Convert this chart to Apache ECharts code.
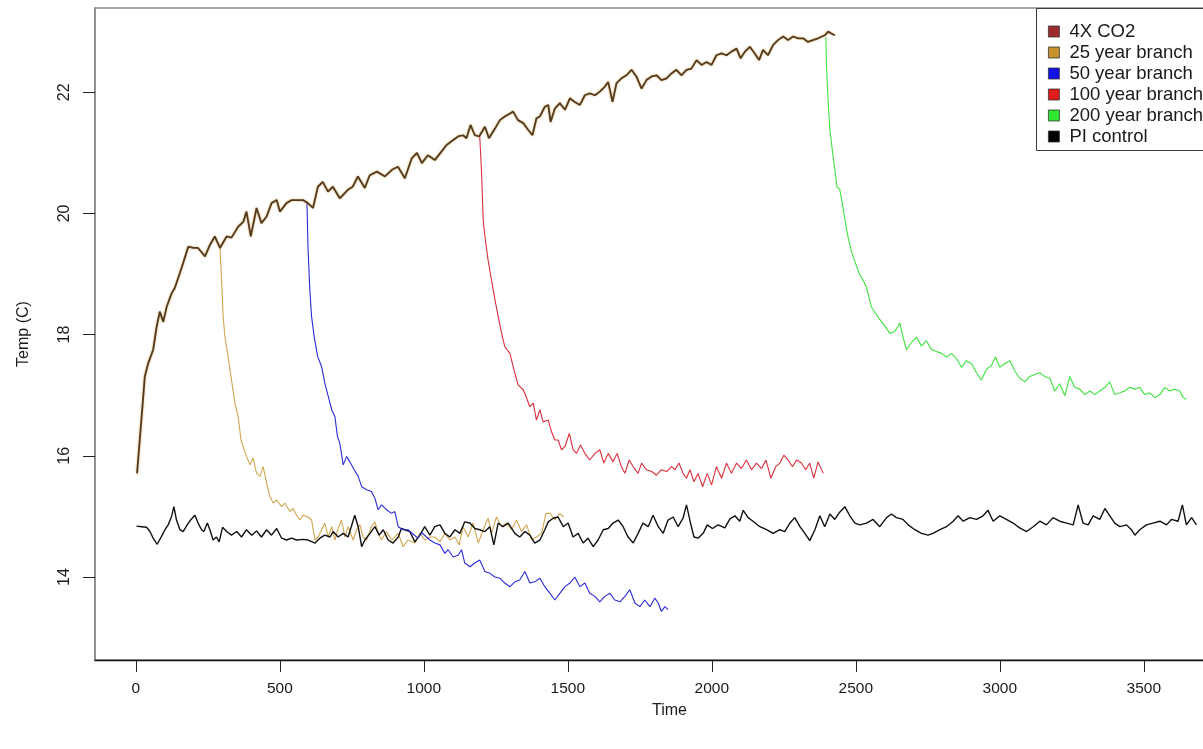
<!DOCTYPE html>
<html>
<head>
<meta charset="utf-8">
<title>Temp (C)</title>
<script src="https://cdn.jsdelivr.net/npm/echarts@6/dist/echarts.min.js"></script>
<style>
  html, body { margin: 0; padding: 0; background: #fff; }
  #chart { width: 1203px; height: 749px; }
</style>
</head>
<body>
<div id="chart"></div>
<script>
// Global mean temperature runs: [year, temperature °C]
const co2Run = [[4,15.71],[20,16.65],[31,17.31],[43,17.53],[60,17.75],[72,18.13],[83,18.38],[95,18.21],[107,18.46],[124,18.68],[135,18.77],[153,19.02],[164,19.18],[182,19.45],[199,19.43],[216,19.43],[240,19.29],[257,19.48],[274,19.62],[292,19.43],[315,19.62],[332,19.6],[355,19.78],[373,19.86],[384,20.03],[399,19.62],[419,20.09],[436,19.84],[454,19.95],[471,20.17],[489,20.22],[500,20.03],[523,20.17],[541,20.22],[562,20.22],[580,20.22],[597,20.17],[615,20.09],[632,20.44],[649,20.52],[667,20.36],[684,20.44],[708,20.25],[736,20.39],[753,20.44],[771,20.61],[795,20.42],[812,20.63],[837,20.69],[865,20.61],[889,20.72],[910,20.77],[934,20.58],[958,20.91],[976,21.0],[993,20.83],[1014,20.96],[1038,20.88],[1061,21.02],[1079,21.13],[1102,21.21],[1119,21.27],[1136,21.29],[1148,21.24],[1162,21.46],[1177,21.29],[1192,21.27],[1212,21.43],[1226,21.24],[1247,21.4],[1264,21.54],[1281,21.6],[1299,21.65],[1310,21.68],[1327,21.54],[1345,21.49],[1362,21.38],[1377,21.29],[1391,21.57],[1403,21.6],[1420,21.76],[1432,21.79],[1440,21.51],[1455,21.73],[1472,21.82],[1490,21.71],[1507,21.9],[1524,21.84],[1542,21.79],[1559,21.95],[1576,21.98],[1594,21.95],[1611,22.01],[1628,22.09],[1640,22.17],[1655,21.84],[1669,22.15],[1686,22.23],[1704,22.28],[1721,22.37],[1738,22.26],[1756,22.06],[1773,22.2],[1791,22.26],[1808,22.28],[1825,22.2],[1843,22.23],[1860,22.31],[1877,22.37],[1895,22.28],[1912,22.37],[1929,22.39],[1947,22.53],[1964,22.45],[1982,22.5],[1999,22.45],[2016,22.61],[2034,22.64],[2051,22.61],[2068,22.67],[2086,22.72],[2100,22.56],[2115,22.67],[2132,22.75],[2149,22.64],[2164,22.53],[2178,22.7],[2195,22.61],[2213,22.78],[2230,22.86],[2248,22.92],[2265,22.86],[2282,22.92],[2300,22.89],[2317,22.89],[2334,22.83],[2351,22.86],[2369,22.89],[2392,22.94],[2404,23.0],[2415,22.97],[2427,22.94]];

const branch25 = [[292,19.43],[298,18.85],[303,18.3],[309,17.97],[320,17.64],[332,17.25],[344,16.87],[355,16.65],[365,16.26],[384,15.99],[396,15.85],[407,15.96],[419,15.71],[431,15.66],[442,15.82],[454,15.55],[465,15.33],[477,15.22],[489,15.27],[506,15.16],[517,15.22],[535,15.08],[546,15.13],[558,15.02],[569,14.94],[581,15.02],[598,14.99],[610,14.94],[622,14.61],[633,14.66],[645,14.78],[656,14.89],[668,14.66],[680,14.83],[691,14.61],[702,14.8],[714,14.94],[726,14.66],[737,14.83],[755,14.61],[766,14.78],[778,14.86],[789,14.66],[801,14.61],[818,14.83],[830,14.91],[841,14.72],[853,14.61],[870,14.75],[888,14.61],[911,14.72],[928,14.5],[945,14.61],[969,14.56],[986,14.72],[1003,14.61],[1021,14.66],[1038,14.66],[1056,14.58],[1073,14.72],[1090,14.61],[1108,14.66],[1123,14.53],[1136,14.83],[1154,14.66],[1171,14.89],[1189,14.56],[1206,14.78],[1223,14.97],[1235,14.72],[1252,14.99],[1270,14.83],[1287,14.89],[1305,14.78],[1322,14.94],[1339,14.75],[1357,14.86],[1374,14.61],[1391,14.66],[1409,14.72],[1424,15.05],[1438,15.05],[1455,14.94],[1472,15.05],[1486,14.99]];

const branch50 = [[594,20.17],[598,19.4],[604,18.74],[610,18.3],[619,17.97],[631,17.64],[645,17.47],[656,17.2],[668,16.98],[680,16.76],[691,16.65],[700,16.32],[708,16.21],[720,15.85],[732,15.99],[743,15.9],[758,15.77],[772,15.66],[784,15.49],[801,15.44],[818,15.41],[830,15.3],[841,15.11],[853,15.19],[870,15.11],[888,15.05],[899,15.08],[911,14.83],[928,14.78],[945,14.78],[962,14.71],[979,14.64],[993,14.73],[1009,14.66],[1021,14.61],[1038,14.56],[1056,14.53],[1073,14.39],[1084,14.45],[1102,14.33],[1119,14.36],[1131,14.45],[1142,14.23],[1160,14.17],[1177,14.23],[1194,14.28],[1212,14.09],[1229,14.06],[1247,14.0],[1264,13.98],[1281,13.9],[1299,13.84],[1316,13.92],[1333,13.95],[1351,14.09],[1368,13.9],[1385,13.92],[1403,13.98],[1420,13.84],[1438,13.73],[1455,13.62],[1472,13.73],[1490,13.84],[1507,13.9],[1524,14.0],[1542,13.84],[1559,13.9],[1576,13.73],[1594,13.68],[1611,13.59],[1628,13.68],[1646,13.73],[1663,13.62],[1681,13.59],[1698,13.68],[1715,13.79],[1733,13.57],[1750,13.51],[1767,13.62],[1785,13.51],[1802,13.65],[1814,13.57],[1825,13.43],[1837,13.51],[1848,13.46]];

const branch100 = [[1194,21.27],[1200,20.72],[1206,19.89],[1212,19.62],[1223,19.23],[1235,18.9],[1247,18.57],[1258,18.3],[1270,18.02],[1281,17.8],[1299,17.69],[1310,17.47],[1327,17.17],[1345,17.09],[1357,16.95],[1368,16.81],[1380,16.87],[1391,16.59],[1403,16.76],[1414,16.56],[1432,16.59],[1443,16.4],[1455,16.26],[1466,16.26],[1478,16.1],[1490,16.15],[1505,16.37],[1518,16.1],[1530,16.04],[1544,16.18],[1559,16.04],[1576,15.93],[1594,16.04],[1611,16.1],[1625,15.88],[1640,16.04],[1657,15.9],[1671,16.04],[1686,15.82],[1698,15.71],[1713,15.93],[1727,15.82],[1744,15.71],[1756,15.88],[1773,15.77],[1791,15.74],[1808,15.68],[1825,15.77],[1843,15.74],[1860,15.82],[1872,15.77],[1886,15.88],[1900,15.71],[1912,15.63],[1924,15.77],[1938,15.57],[1952,15.71],[1968,15.49],[1984,15.71],[1999,15.52],[2016,15.82],[2034,15.63],[2051,15.88],[2068,15.71],[2086,15.88],[2103,15.79],[2120,15.93],[2138,15.77],[2155,15.88],[2173,15.79],[2188,15.93],[2205,15.63],[2222,15.82],[2236,15.88],[2250,16.01],[2265,15.93],[2280,15.82],[2294,15.93],[2311,15.88],[2326,15.77],[2340,15.88],[2354,15.63],[2369,15.9],[2387,15.71]];

const branch200 = [[2396,22.91],[2398,22.44],[2404,21.85],[2410,21.38],[2419,21.02],[2427,20.73],[2435,20.43],[2444,20.4],[2454,20.14],[2462,19.9],[2473,19.61],[2485,19.37],[2497,19.2],[2511,19.02],[2525,18.9],[2537,18.78],[2546,18.61],[2554,18.46],[2566,18.37],[2583,18.25],[2601,18.14],[2618,18.02],[2635,18.05],[2653,18.19],[2664,17.96],[2676,17.75],[2693,17.87],[2711,17.96],[2728,17.81],[2745,17.9],[2763,17.75],[2780,17.72],[2798,17.69],[2815,17.63],[2832,17.69],[2850,17.6],[2867,17.46],[2884,17.57],[2902,17.52],[2919,17.37],[2936,17.25],[2954,17.43],[2971,17.49],[2985,17.63],[3000,17.46],[3017,17.52],[3035,17.57],[3052,17.4],[3069,17.28],[3087,17.22],[3104,17.31],[3122,17.34],[3139,17.37],[3156,17.31],[3174,17.28],[3191,17.07],[3208,17.19],[3226,16.99],[3243,17.31],[3260,17.13],[3278,17.1],[3295,17.01],[3313,17.07],[3330,17.01],[3347,17.07],[3365,17.13],[3382,17.22],[3399,17.01],[3417,17.04],[3434,17.07],[3451,17.13],[3469,17.1],[3486,17.13],[3503,17.01],[3521,17.04],[3538,16.96],[3556,17.01],[3573,17.13],[3590,17.07],[3608,17.1],[3625,17.07],[3637,16.96],[3648,16.93]];

const piControl = [[2,14.84],[20,14.83],[37,14.82],[49,14.75],[60,14.64],[74,14.54],[89,14.67],[101,14.78],[112,14.86],[124,15.0],[132,15.16],[141,14.94],[153,14.78],[164,14.75],[178,14.86],[190,14.94],[205,15.02],[216,14.89],[228,14.78],[236,14.75],[248,14.89],[257,14.78],[268,14.61],[280,14.66],[289,14.58],[301,14.82],[315,14.75],[332,14.69],[350,14.75],[367,14.66],[384,14.78],[402,14.69],[419,14.76],[436,14.66],[454,14.78],[471,14.69],[489,14.8],[506,14.64],[523,14.61],[541,14.64],[558,14.61],[581,14.62],[598,14.61],[622,14.56],[639,14.64],[656,14.69],[674,14.66],[685,14.75],[702,14.66],[720,14.72],[737,14.66],[755,14.94],[760,15.02],[772,14.83],[784,14.5],[795,14.61],[813,14.72],[830,14.83],[845,14.69],[859,14.78],[876,14.61],[893,14.56],[911,14.66],[922,14.8],[934,14.78],[951,14.75],[969,14.58],[986,14.69],[1003,14.83],[1021,14.69],[1038,14.83],[1056,14.86],[1073,14.72],[1090,14.66],[1108,14.78],[1125,14.72],[1142,14.91],[1160,14.89],[1177,14.8],[1194,14.78],[1212,14.75],[1229,14.83],[1243,14.53],[1258,14.89],[1275,14.83],[1293,14.89],[1316,14.72],[1333,14.66],[1351,14.75],[1368,14.69],[1385,14.56],[1403,14.61],[1420,14.78],[1432,14.91],[1449,14.97],[1466,14.99],[1484,14.83],[1501,14.89],[1518,14.66],[1536,14.72],[1553,14.56],[1570,14.64],[1588,14.5],[1605,14.61],[1623,14.78],[1640,14.8],[1657,14.89],[1675,14.94],[1692,14.83],[1709,14.66],[1727,14.56],[1744,14.72],[1761,14.89],[1779,14.83],[1796,15.02],[1814,14.83],[1831,14.72],[1848,14.94],[1866,14.99],[1883,14.83],[1900,14.97],[1912,15.19],[1926,14.89],[1938,14.66],[1952,14.64],[1970,14.72],[1984,14.86],[2002,14.8],[2022,14.86],[2045,14.81],[2063,14.96],[2080,15.01],[2097,14.92],[2109,15.1],[2126,14.98],[2143,14.92],[2167,14.83],[2190,14.78],[2213,14.72],[2236,14.78],[2253,14.75],[2271,14.89],[2288,14.98],[2306,14.83],[2323,14.72],[2340,14.6],[2358,14.78],[2375,15.01],[2392,14.83],[2410,15.04],[2427,14.95],[2444,15.07],[2462,15.16],[2479,15.01],[2497,14.89],[2514,14.86],[2537,14.89],[2560,14.95],[2583,14.83],[2607,14.98],[2624,15.04],[2641,14.98],[2664,14.95],[2682,14.86],[2705,14.78],[2728,14.72],[2751,14.69],[2768,14.72],[2792,14.78],[2815,14.83],[2838,14.92],[2855,15.01],[2873,14.92],[2896,14.98],[2919,14.95],[2942,15.01],[2959,15.1],[2977,14.92],[3000,15.01],[3023,14.95],[3046,14.89],[3069,14.81],[3093,14.75],[3116,14.83],[3139,14.92],[3162,14.86],[3185,14.98],[3208,14.92],[3232,14.89],[3255,14.86],[3272,15.19],[3289,14.89],[3307,14.86],[3324,15.01],[3347,14.95],[3365,15.13],[3382,15.01],[3399,14.89],[3417,14.83],[3440,14.86],[3457,14.78],[3469,14.69],[3486,14.78],[3509,14.86],[3532,14.89],[3556,14.92],[3579,14.86],[3596,14.95],[3619,14.92],[3634,15.19],[3648,14.86],[3666,14.98],[3683,14.86]];

const timeTicks = [0, 500, 1000, 1500, 2000, 2500, 3000, 3500];
const tempTicks = [14, 16, 18, 20, 22];

const seriesNames = ['4X CO2', '25 year branch', '50 year branch', '100 year branch', '200 year branch', 'PI control'];
const swatchColors = ['#9e2b2b', '#c8922f', '#1212e6', '#e01b1b', '#2fe82f', '#000000'];

const font = '"Liberation Sans", Arial, sans-serif';

const chart = echarts.init(document.getElementById('chart'), null, { renderer: 'canvas' });

function lineSeries(name, data, color, width, z, extra) {
  return Object.assign({
    name: name,
    type: 'line',
    data: data,
    showSymbol: false,
    symbol: 'none',
    smooth: false,
    z: z,
    color: color,
    lineStyle: { color: color, width: width },
    emphasis: { disabled: true },
    silent: true
  }, extra || {});
}

chart.setOption({
  animation: false,
  backgroundColor: '#ffffff',
  grid: {
    left: 95, top: 8, right: -41, bottom: 89,
    outerBoundsMode: 'none',
    containLabel: false,
    show: true, borderColor: '#8a8a8a', borderWidth: 1.5, backgroundColor: 'transparent'
  },
  // legend frame runs past the right edge of the page
  graphic: [{
    type: 'rect', z: 10,
    shape: { x: 1036.5, y: 8.5, width: 240, height: 142 },
    style: { fill: '#ffffff', stroke: '#3a3a3a', lineWidth: 1 }
  }],
  legend: {
    orient: 'vertical',
    left: 1036, top: 8, z: 20,
    padding: [14, 10, 6, 12],
    itemWidth: 11, itemHeight: 11, itemGap: 2,
    backgroundColor: 'transparent',
    borderWidth: 0,
    selectedMode: false,
    textStyle: { fontFamily: font, fontSize: 18.5, color: '#1a1a1a', padding: [0, 0, 0, 5] },
    data: seriesNames.map((n, i) => ({
      name: n, icon: 'rect',
      itemStyle: { color: swatchColors[i], borderColor: '#333', borderWidth: 0.8 }
    }))
  },
  xAxis: {
    type: 'value',
    min: -142, max: 3848,
    name: 'Time', nameLocation: 'middle', nameGap: 43,
    nameTextStyle: { fontFamily: font, fontSize: 16, color: '#1a1a1a' },
    axisLine: { show: true, onZero: false, lineStyle: { color: '#111', width: 1.4 } },
    axisTick: { show: true, customValues: timeTicks, length: 12, lineStyle: { color: '#222', width: 1 } },
    axisLabel: {
      customValues: timeTicks, margin: 21,
      formatter: v => String(v),
      fontFamily: font, fontSize: 15.5, color: '#1a1a1a'
    },
    splitLine: { show: false }
  },
  yAxis: {
    type: 'value',
    min: 12.63, max: 23.39,
    name: 'Temp (C)', nameLocation: 'middle', nameGap: 63,
    nameTextStyle: { fontFamily: font, fontSize: 16, color: '#1a1a1a' },
    axisLine: { show: true, onZero: false, lineStyle: { color: '#8a8a8a', width: 1.5 } },
    axisTick: { show: true, customValues: tempTicks, length: 12, lineStyle: { color: '#222', width: 1 } },
    axisLabel: {
      customValues: tempTicks, rotate: 90, margin: 22,
      formatter: v => String(v),
      fontFamily: font, fontSize: 16, color: '#1a1a1a'
    },
    splitLine: { show: false }
  },
  series: [
    lineSeries(seriesNames[0], co2Run, '#553a22', 1.8, 5,
      { lineStyle: { color: '#553a22', width: 1.8, shadowColor: 'rgba(205,165,70,0.9)', shadowBlur: 2 } }),
    lineSeries(seriesNames[1], branch25, '#d0a650', 1.1, 3),
    lineSeries(seriesNames[2], branch50, '#2a2ad6', 1.1, 4),
    lineSeries(seriesNames[3], branch100, '#dc2f3c', 1.1, 4),
    lineSeries(seriesNames[4], branch200, '#3fe23f', 1.1, 4),
    lineSeries(seriesNames[5], piControl, '#111111', 1.4, 3)
  ]
});
</script>
</body>
</html>
